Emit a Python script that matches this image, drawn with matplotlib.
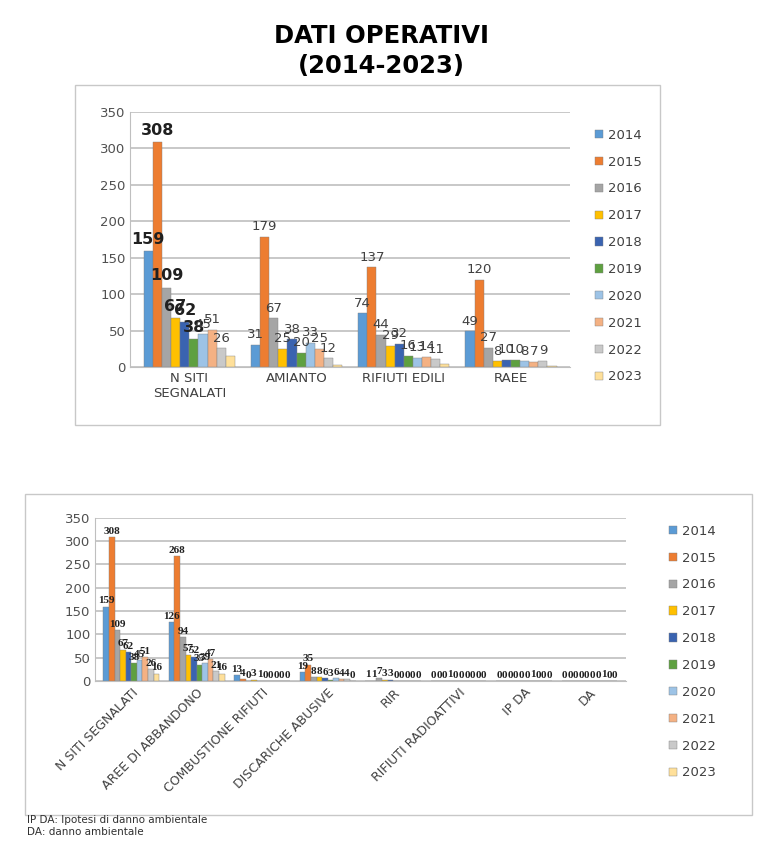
import matplotlib.pyplot as plt
import matplotlib.patches as patches
import numpy as np

years = ['2014', '2015', '2016', '2017', '2018', '2019', '2020', '2021', '2022', '2023']
colors = ['#5B9BD5', '#ED7D31', '#A5A5A5', '#FFC000', '#3A63B0',
          '#5EA040', '#9DC3E6', '#F4B183', '#C9C9C9', '#FFE09A']

# top chart
top_cats = ['N SITI\nSEGNALATI', 'AMIANTO', 'RIFIUTI EDILI', 'RAEE']
siti = [159, 308, 109, 67, 62, 38, 45, 51, 26, 16]
amianto = [31, 179, 67, 25, 38, 20, 33, 25, 12, 3]
edili = [74, 137, 44, 29, 32, 16, 13, 14, 11, 5]
raee = [49, 120, 27, 8, 10, 10, 8, 7, 9, 2]

# bottom chart
bot_cats = ['N SITI SEGNALATI', 'AREE DI ABBANDONO', 'COMBUSTIONE RIFIUTI',
            'DISCARICHE ABUSIVE', 'RIR', 'RIFIUTI RADIOATTIVI', 'IP DA', 'DA']
b_siti = [159, 308, 109, 67, 62, 38, 45, 51, 26, 16]
b_aree = [126, 268, 94, 57, 52, 35, 39, 47, 21, 16]
b_comb = [13, 4, 0, 3, 1, 0, 0, 0, 0, 0]
b_disc = [19, 35, 8, 8, 6, 3, 6, 4, 4, 0]
b_rir = [1, 1, 7, 3, 3, 0, 0, 0, 0, 0]
b_radio = [0, 0, 0, 1, 0, 0, 0, 0, 0, 0]
b_ipda = [0, 0, 0, 0, 0, 0, 1, 0, 0, 0]
b_da = [0, 0, 0, 0, 0, 0, 0, 1, 0, 0]

top_data = np.array([siti, amianto, edili, raee]).T
bot_data = np.array([b_siti, b_aree, b_comb, b_disc, b_rir, b_radio, b_ipda, b_da]).T

fig = plt.figure(figsize=(7.62, 8.6), dpi=100)
fig.patch.set_facecolor('white')

fig.text(0.5, 0.958, 'DATI OPERATIVI', ha='center', va='center', fontsize=17.5, fontweight='bold')
fig.text(0.5, 0.923, '(2014-2023)', ha='center', va='center', fontsize=17.5, fontweight='bold')

# chart frames
fig.patches.append(patches.Rectangle((0.098, 0.506), 0.768, 0.395, transform=fig.transFigure,
                                     fill=False, edgecolor='#c8c8c8', linewidth=1))
fig.patches.append(patches.Rectangle((0.033, 0.052), 0.954, 0.374, transform=fig.transFigure,
                                     fill=False, edgecolor='#c8c8c8', linewidth=1))


def style_axes(ax):
    ax.set_ylim(0, 350)
    ax.set_yticks(range(0, 351, 50))
    ax.yaxis.grid(True, color='#c4c4c4', linewidth=1.3)
    ax.set_axisbelow(True)
    for s in ['top', 'right']:
        ax.spines[s].set_visible(False)
    ax.spines['left'].set_color('#bfbfbf')
    ax.spines['bottom'].set_color('#bfbfbf')
    ax.tick_params(axis='y', length=0, labelsize=9.5, colors='#505050')
    ax.tick_params(axis='x', length=0, colors='#404040')


w = 0.085
offsets = (np.arange(len(years)) - 4.5) * w

# ---- top chart
ax1 = fig.add_axes([0.171, 0.573, 0.577, 0.297])
style_axes(ax1)
x1 = np.arange(len(top_cats))
for i, yr in enumerate(years):
    bars = ax1.bar(x1 + offsets[i], top_data[i], w, color=colors[i], label=yr,
                   edgecolor='#808080', linewidth=0.3)
    if yr == '2023':
        continue
    for j, b in enumerate(bars):
        v = top_data[i][j]
        big = (j == 0 and i < 6)
        ax1.text(b.get_x() + w / 2, v + (6 if big else 5), str(v), ha='center', va='bottom',
                 fontsize=11.5 if big else 9.5, fontweight='bold' if big else 'normal',
                 color='#202020' if big else '#404040')
ax1.set_xlim(-0.55, 3.55)
ax1.set_xticks(x1)
ax1.set_xticklabels(top_cats, fontsize=9.5)
ax1.legend(loc='upper left', bbox_to_anchor=(1.03, 0.98), frameon=False, fontsize=9.5,
           handlelength=0.6, handleheight=0.6, labelspacing=1.05, handletextpad=0.4,
           labelcolor='#404040')

# ---- bottom chart
ax2 = fig.add_axes([0.125, 0.208, 0.696, 0.19])
style_axes(ax2)
x2 = np.arange(len(bot_cats))
for i, yr in enumerate(years):
    bars = ax2.bar(x2 + offsets[i], bot_data[i], w, color=colors[i], label=yr,
                   edgecolor='#808080', linewidth=0.3)
    for j, b in enumerate(bars):
        v = bot_data[i][j]
        ax2.text(b.get_x() + w / 2, v + 3, str(v), ha='center', va='bottom',
                 fontsize=8, family='Liberation Serif', fontweight='bold', color='#202020')
ax2.set_xlim(-0.55, 7.55)
ax2.set_xticks(x2)
ax2.set_xticklabels(bot_cats, fontsize=9, rotation=45, ha='right', rotation_mode='anchor')
ax2.legend(loc='upper left', bbox_to_anchor=(1.06, 1.03), frameon=False, fontsize=9.5,
           handlelength=0.6, handleheight=0.6, labelspacing=1.05, handletextpad=0.4,
           labelcolor='#404040')

fig.text(0.036, 0.046, 'IP DA: Ipotesi di danno ambientale', fontsize=7.5, va='center', color='#303030')
fig.text(0.036, 0.032, 'DA: danno ambientale', fontsize=7.5, va='center', color='#303030')

plt.savefig('out.png', dpi=100, facecolor='white')
